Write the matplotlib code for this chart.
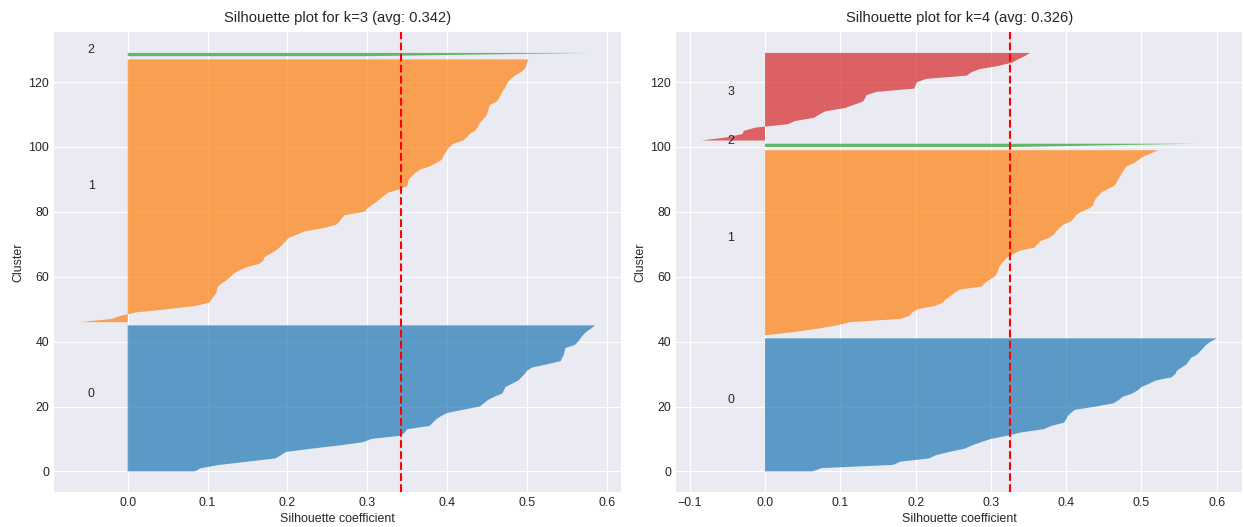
import numpy as np
import matplotlib
matplotlib.use("Agg")
import matplotlib.pyplot as plt

plt.style.use("seaborn-v0_8-darkgrid")
plt.rcParams["font.family"] = ["Liberation Sans", "DejaVu Sans"]

# ---- data (sorted silhouette values per cluster) ----
k_values = [3, 4]
avg_scores = [0.342, 0.326]

k3_cluster0 = [0.084, 0.092, 0.115, 0.150, 0.185, 0.192, 0.198, 0.230, 0.265, 0.295,
               0.305, 0.342, 0.347, 0.350, 0.378, 0.382, 0.386, 0.392, 0.400, 0.420,
               0.441, 0.446, 0.451, 0.459, 0.469, 0.471, 0.473, 0.481, 0.489, 0.493,
               0.497, 0.500, 0.506, 0.525, 0.542, 0.544, 0.546, 0.547, 0.548, 0.560,
               0.564, 0.567, 0.570, 0.574, 0.580, 0.585]
k3_cluster1 = [-0.060, -0.020, -0.008, 0.010, 0.050, 0.085, 0.102, 0.105, 0.108, 0.111,
               0.112, 0.113, 0.118, 0.124, 0.129, 0.133, 0.140, 0.150, 0.165, 0.170,
               0.171, 0.178, 0.185, 0.190, 0.194, 0.198, 0.202, 0.212, 0.222, 0.245,
               0.261, 0.265, 0.268, 0.272, 0.296, 0.300, 0.305, 0.311, 0.316, 0.321,
               0.327, 0.341, 0.350, 0.351, 0.352, 0.356, 0.360, 0.366, 0.378, 0.386,
               0.393, 0.395, 0.397, 0.400, 0.403, 0.408, 0.420, 0.425, 0.428, 0.435,
               0.438, 0.440, 0.443, 0.447, 0.450, 0.451, 0.452, 0.454, 0.462, 0.465,
               0.467, 0.469, 0.472, 0.474, 0.476, 0.480, 0.485, 0.492, 0.497, 0.499,
               0.500, 0.502]
k3_cluster2 = [0.300, 0.578]

k4_cluster0 = [0.063, 0.075, 0.170, 0.180, 0.218, 0.227, 0.245, 0.265, 0.275, 0.287,
               0.300, 0.322, 0.340, 0.370, 0.380, 0.397, 0.400, 0.402, 0.406, 0.412,
               0.440, 0.463, 0.470, 0.475, 0.488, 0.495, 0.500, 0.510, 0.519, 0.540,
               0.545, 0.547, 0.553, 0.560, 0.563, 0.566, 0.574, 0.578, 0.582, 0.586,
               0.592, 0.600]
k4_cluster1 = [0.002, 0.040, 0.070, 0.095, 0.113, 0.180, 0.192, 0.196, 0.203, 0.226,
               0.236, 0.240, 0.246, 0.252, 0.258, 0.288, 0.292, 0.298, 0.305, 0.308,
               0.310, 0.311, 0.314, 0.318, 0.322, 0.330, 0.338, 0.358, 0.362, 0.366,
               0.377, 0.384, 0.387, 0.391, 0.396, 0.406, 0.410, 0.413, 0.420, 0.430,
               0.436, 0.437, 0.439, 0.443, 0.447, 0.455, 0.464, 0.467, 0.469, 0.472,
               0.474, 0.477, 0.480, 0.490, 0.496, 0.502, 0.512, 0.522]
k4_cluster2 = [0.330, 0.570]
k4_cluster3 = [-0.084, -0.050, -0.030, -0.028, -0.012, 0.030, 0.040, 0.065, 0.072, 0.080,
               0.106, 0.118, 0.130, 0.133, 0.135, 0.148, 0.198, 0.200, 0.202, 0.214,
               0.268, 0.274, 0.285, 0.310, 0.328, 0.336, 0.345, 0.352]

clusters_by_k = [
    [k3_cluster0, k3_cluster1, k3_cluster2],
    [k4_cluster0, k4_cluster1, k4_cluster2, k4_cluster3],
]
colors = ["#1f77b4", "#ff7f0e", "#2ca02c", "#d62728"]

# ---- figure ----
W, H = 1243, 527
fig = plt.figure(figsize=(W / 100, H / 100), dpi=100)
s = 0.888
ax_boxes = [
    [54 / W, (H - 492.3) / H, 566.7 / W, 460.3 / H],
    [676 / W, (H - 492.3) / H, 566.5 / W, 460.3 / H],
]

for idx, k in enumerate(k_values):
    ax = fig.add_axes(ax_boxes[idx])
    y_lower = 0
    for i, vals in enumerate(clusters_by_k[idx]):
        size = len(vals)
        y = np.arange(y_lower, y_lower + size)
        ax.fill_betweenx(y, 0, vals, facecolor=colors[i], edgecolor="none",
                         linewidth=0, alpha=0.7)
        ax.text(-0.05, y_lower + 0.5 * size, str(i), fontsize=10 * s, color=".15")
        y_lower += size
    ax.axvline(x=avg_scores[idx], color="red", linestyle="--", linewidth=1.5)
    ax.set_title(f"Silhouette plot for k={k} (avg: {avg_scores[idx]:.3f})",
                 fontsize=12 * s, pad=7)
    ax.set_xlabel("Silhouette coefficient", fontsize=10 * s, labelpad=3)
    ax.set_ylabel("Cluster", fontsize=10 * s, labelpad=3)
    ax.tick_params(labelsize=10 * s)
    ax.set_yticks([0, 20, 40, 60, 80, 100, 120])

fig.savefig("out.png", dpi=100)
